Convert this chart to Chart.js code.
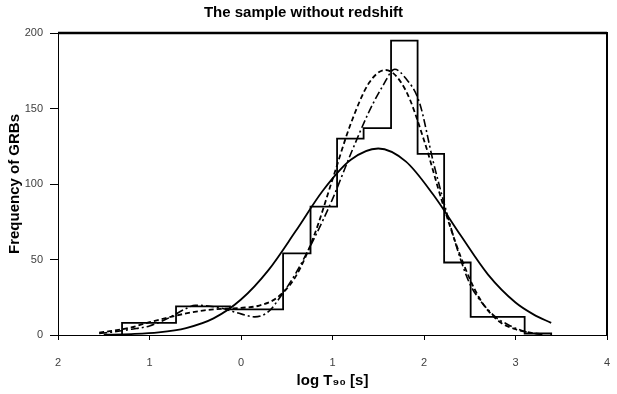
<!DOCTYPE html>
<html>
<head>
<meta charset="utf-8">
<script src="https://cdn.jsdelivr.net/npm/chart.js@4.4.0/dist/chart.umd.min.js"></script>
<style>
  body { margin: 0; background: #fff; }
</style>
</head>
<body>
<canvas id="grbChart" width="617" height="394"></canvas>
<script>
// histogram: bin edges (log T90) and counts per bin
const binEdges = [-1.30, -1.00, -0.71, -0.42, -0.12, 0.17, 0.46, 0.76, 1.05, 1.34, 1.64, 1.93, 2.22, 2.51, 2.81, 3.10, 3.39];
const binCounts = [8, 8, 19, 19, 17, 17, 54, 85, 130, 137, 195, 120, 48, 12, 12, 1];

// solid fitted curve
const solidX = [-1.5, -1.2, -0.9, -0.6, -0.3, 0.0, 0.3, 0.6, 0.9, 1.2, 1.5, 1.8, 2.1, 2.4, 2.7, 3.0, 3.2, 3.39];
const solidY = [0.2, 0.6, 1.7, 4.6, 11, 23.5, 43, 69, 96, 116, 123.5, 115, 93, 66, 40, 21.5, 13.5, 8];

// dashed fitted curve
const dashX = [-1.55, -1.4, -1.2, -1.0, -0.8, -0.6, -0.4, -0.2, 0.0, 0.2, 0.4, 0.6, 0.8, 1.0, 1.2, 1.4, 1.58, 1.8, 2.0, 2.2, 2.4, 2.6, 2.8, 3.0, 3.2, 3.3];
const dashY = [1.6, 2.8, 5.0, 8.5, 11.5, 14.3, 16.3, 17.4, 18.0, 19.5, 25, 39, 66, 103, 140, 167, 175.5, 162, 129, 88, 52, 25, 10, 3.8, 1.2, 0.6];

// dash-dot fitted curve (two components)
const dotX = [-1.55, -1.4, -1.2, -1.0, -0.8, -0.6, -0.5, -0.4, -0.2, 0.0, 0.15, 0.3, 0.45, 0.6, 0.8, 1.0, 1.2, 1.4, 1.55, 1.68, 1.8, 1.95, 2.1, 2.25, 2.4, 2.5, 2.6, 2.8, 2.9, 3.0, 3.15, 3.3];
const dotY = [1.0, 2.0, 3.8, 6.0, 11.0, 17.5, 19.7, 19.5, 17.5, 14.0, 12.0, 15.5, 27, 41, 64, 90, 120, 148, 165, 176, 170, 154, 115, 80.6, 50, 34, 24, 11, 7.5, 4.5, 1.5, 0.5];

const xTickLabels = ['2', '1', '0', '1', '2', '3', '4'];

function toPoints(xs, ys)
{
    const pts = [];
    for (let i = 0; i < xs.length; i++)
    {
        pts.push({x: xs[i], y: ys[i]});
    }
    return pts;
}

function histogramOutline(edges, counts)
{
    const pts = [{x: edges[0], y: 0}];
    for (let i = 0; i < counts.length; i++)
    {
        pts.push({x: edges[i], y: counts[i]});
    }
    pts.push({x: edges[edges.length - 1], y: 0});
    return pts;
}

// thick top and right border of the plot area
const framePlugin = {
    id: 'frame',
    afterDraw(chart) {
        const a = chart.chartArea;
        const c = chart.ctx;
        c.save();
        c.strokeStyle = '#000';
        c.lineWidth = 2.5;
        c.beginPath();
        c.moveTo(a.left, a.top);
        c.lineTo(a.right, a.top);
        c.stroke();
        c.lineWidth = 2;
        c.beginPath();
        c.moveTo(a.right, a.top - 1);
        c.lineTo(a.right, a.bottom);
        c.stroke();
        c.restore();
    }
};

const curveBase = {
    borderColor: '#000',
    pointRadius: 0,
    fill: false,
    cubicInterpolationMode: 'monotone'
};

const ctx = document.getElementById('grbChart').getContext('2d');
const grbChart = new Chart(ctx, {
    type: 'line',
    data: {
        datasets: [
            {
                label: 'histogram',
                data: histogramOutline(binEdges, binCounts),
                borderColor: '#000',
                borderWidth: 1.8,
                pointRadius: 0,
                stepped: true,
                fill: false
            },
            Object.assign({label: 'solid', data: toPoints(solidX, solidY), borderWidth: 1.8}, curveBase),
            Object.assign({label: 'dashed', data: toPoints(dashX, dashY), borderWidth: 1.8, borderDash: [5, 3]}, curveBase),
            Object.assign({label: 'dashdot', data: toPoints(dotX, dotY), borderWidth: 1.6, borderDash: [8, 3, 2, 3]}, curveBase)
        ]
    },
    options: {
        responsive: false,
        animation: false,
        layout: { padding: { left: 0, right: 10, top: 0, bottom: 0 } },
        plugins: {
            legend: { display: false },
            tooltip: { enabled: false },
            title: {
                display: true,
                text: 'The sample without redshift',
                color: '#000',
                font: { family: 'Liberation Sans', size: 15, weight: 'bold' },
                padding: { top: 4, bottom: 11 }
            }
        },
        scales: {
            x: {
                type: 'linear',
                min: -2,
                max: 4,
                afterFit: function(scale) {
                    scale.height = 59;
                    scale.paddingLeft = 0;
                    scale.paddingRight = 0;
                },
                ticks: {
                    stepSize: 1,
                    color: '#404040',
                    padding: 16,
                    maxRotation: 0,
                    font: { family: 'Liberation Sans', size: 11 },
                    callback: function(value) { return xTickLabels[value + 2]; }
                },
                grid: { drawOnChartArea: false, tickLength: 5, color: '#000' },
                border: { color: '#000', width: 1 },
                title: {
                    display: true,
                    text: 'log T₉₀ [s]',
                    color: '#000',
                    font: { family: 'Liberation Sans', size: 15, weight: 'bold' },
                    padding: { top: 0, bottom: 4 }
                }
            },
            y: {
                min: 0,
                max: 200,
                afterFit: function(scale) { scale.width = 58; },
                ticks: {
                    stepSize: 50,
                    color: '#404040',
                    padding: 7,
                    font: { family: 'Liberation Sans', size: 11 }
                },
                grid: { drawOnChartArea: false, tickLength: 8, color: '#000' },
                border: { color: '#000', width: 1 },
                title: {
                    display: true,
                    text: 'Frequency of GRBs',
                    color: '#000',
                    font: { family: 'Liberation Sans', size: 15, weight: 'bold' },
                    padding: { top: 6, bottom: 0 }
                }
            }
        }
    },
    plugins: [framePlugin]
});
</script>
</body>
</html>
